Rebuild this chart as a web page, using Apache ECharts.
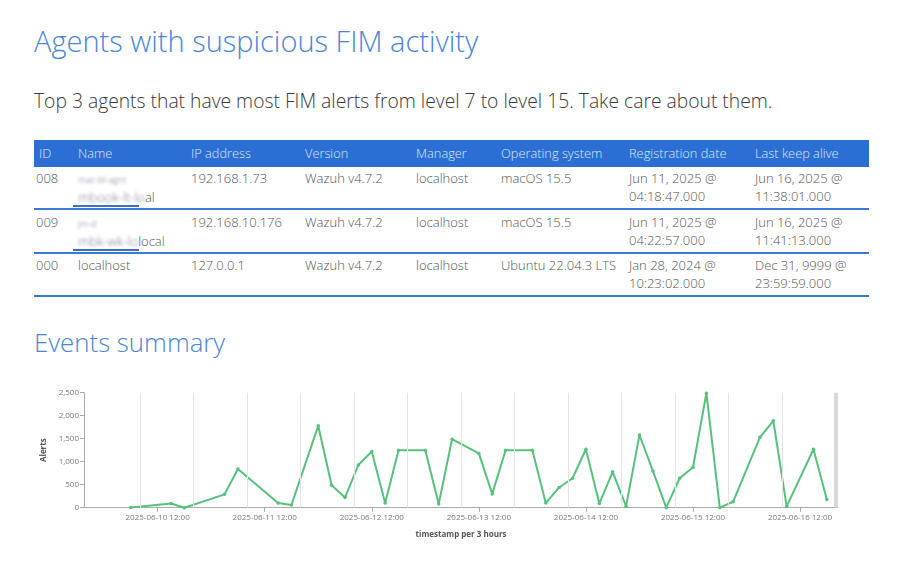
<!DOCTYPE html>
<html>
<head>
<meta charset="utf-8">
<script src="https://cdn.jsdelivr.net/npm/echarts@6/dist/echarts.min.js"></script>
<style>
  html, body { margin: 0; padding: 0; background: #fff; }
  body { width: 900px; height: 565px; position: relative; overflow: hidden; font-family: "Open Sans", sans-serif; }
  .abs { position: absolute; white-space: nowrap; }
  #title { left: 34px; top: 21px; font-size: 29px; color: #4a86d4; font-weight: 300; line-height: 40px; }
  #subtitle { left: 34px; top: 87px; font-size: 19.3px; color: #3a3a3a; line-height: 28px; font-weight: 300; }
  #events { left: 34px; top: 324px; font-size: 25.8px; color: #4a86d4; line-height: 36px; font-weight: 300; }
  #thead { left: 34px; top: 140px; width: 835px; height: 27px; background: #2c6fd4; }
  .th { position: absolute; top: 0; line-height: 27px; font-size: 12.8px; color: #dce7f8; white-space: nowrap; font-weight: 300; }
  .td { position: absolute; font-size: 13px; color: #555; line-height: 17.5px; white-space: nowrap; font-weight: 300; }
  .sep { position: absolute; left: 34px; width: 835px; height: 2px; background: #3b79d5; }
  .blur { filter: blur(1.6px); color: #7a7a9a; }
  #chart { position: absolute; left: 0; top: 370px; width: 900px; height: 195px; }
</style>
</head>
<body>
<div id="title" class="abs">Agents with suspicious FIM activity</div>
<div id="subtitle" class="abs">Top 3 agents that have most FIM alerts from level 7 to level 15. Take care about them.</div>

<div id="thead" class="abs"></div>
<div id="rows"></div>

<div id="events" class="abs">Events summary</div>
<div id="chart"></div>

<script>
// ---- Table data ----
var columns = ["ID", "Name", "IP address", "Version", "Manager", "Operating system", "Registration date", "Last keep alive"];
var agentIds = ["008", "009", "000"];
var agentNames = [["mac-bl-agnt", "mbook-lt-lo|al"], ["jm-d", "mbk-wk-lo|local"], ["localhost"]];
var agentIps = ["192.168.1.73", "192.168.10.176", "127.0.0.1"];
var agentVersions = ["Wazuh v4.7.2", "Wazuh v4.7.2", "Wazuh v4.7.2"];
var agentManagers = ["localhost", "localhost", "localhost"];
var agentOs = ["macOS 15.5", "macOS 15.5", "Ubuntu 22.04.3 LTS"];
var agentRegistered = [["Jun 11, 2025 @", "04:18:47.000"], ["Jun 11, 2025 @", "04:22:57.000"], ["Jan 28, 2024 @", "10:23:02.000"]];
var agentKeepAlive = [["Jun 16, 2025 @", "11:38:01.000"], ["Jun 16, 2025 @", "11:41:13.000"], ["Dec 31, 9999 @", "23:59:59.000"]];

// ---- Chart data ----
var bucketTimes = [
  "2025-06-10 06:00", "2025-06-10 15:00", "2025-06-10 18:00",
  "2025-06-11 03:00", "2025-06-11 06:00", "2025-06-11 15:00", "2025-06-11 18:00",
  "2025-06-12 00:00", "2025-06-12 03:00", "2025-06-12 06:00", "2025-06-12 09:00", "2025-06-12 12:00", "2025-06-12 15:00", "2025-06-12 18:00",
  "2025-06-13 00:00", "2025-06-13 03:00", "2025-06-13 06:00", "2025-06-13 12:00", "2025-06-13 15:00", "2025-06-13 18:00",
  "2025-06-14 00:00", "2025-06-14 03:00", "2025-06-14 06:00", "2025-06-14 09:00", "2025-06-14 12:00", "2025-06-14 15:00", "2025-06-14 18:00", "2025-06-14 21:00",
  "2025-06-15 00:00", "2025-06-15 03:00", "2025-06-15 06:00", "2025-06-15 09:00", "2025-06-15 12:00", "2025-06-15 15:00", "2025-06-15 18:00", "2025-06-15 21:00",
  "2025-06-16 03:00", "2025-06-16 06:00", "2025-06-16 09:00", "2025-06-16 15:00", "2025-06-16 18:00"
];
var alertCounts = [
  5, 90, 0,
  290, 840, 100, 60,
  1780, 490, 220, 930, 1220, 100, 1250,
  1250, 80, 1490, 1180, 300, 1250,
  1250, 100, 440, 640, 1270, 90, 780, 30,
  1580, 800, 0, 640, 880, 2490, 0, 130,
  1530, 1890, 30, 1270, 180
];
var xRange = ["2025-06-09 19:30", "2025-06-16 20:30"];
var xTickLabels = ["2025-06-10 12:00", "2025-06-11 12:00", "2025-06-12 12:00", "2025-06-13 12:00", "2025-06-14 12:00", "2025-06-15 12:00", "2025-06-16 12:00"];
var gridLineTimes = [
  "2025-06-10 08:00", "2025-06-10 20:00", "2025-06-11 08:00", "2025-06-11 20:00",
  "2025-06-12 08:00", "2025-06-12 20:00", "2025-06-13 08:00", "2025-06-13 20:00",
  "2025-06-14 08:00", "2025-06-14 20:00", "2025-06-15 08:00", "2025-06-15 20:00",
  "2025-06-16 08:00"
];
var endLineTime = "2025-06-16 20:00";

// ---- Build table ----
var colX = [39, 78, 191, 305, 416, 501, 629, 755];
var head = document.getElementById('thead');
columns.forEach(function (c, i) {
  var d = document.createElement('div');
  d.className = 'th';
  d.style.left = (colX[i] - 34) + 'px';
  d.textContent = c;
  head.appendChild(d);
});
var rowsEl = document.getElementById('rows');
var rowTop = [170, 214, 257];
var sepTop = [208, 252, 295];
function cell(x, y, lines, nameRow) {
  var d = document.createElement('div');
  d.className = 'td';
  d.style.left = x + 'px';
  d.style.top = y + 'px';
  lines.forEach(function (l, k) {
    if (k > 0) d.appendChild(document.createElement('br'));
    if (nameRow && l.indexOf('|') >= 0) {
      var p = l.split('|');
      var b = document.createElement('span'); b.className = 'blur'; b.textContent = p[0];
      var s = document.createElement('span'); s.textContent = p[1];
      d.appendChild(b); d.appendChild(s);
    } else if (nameRow && lines.length > 1) {
      var b2 = document.createElement('span'); b2.className = 'blur'; b2.textContent = l;
      b2.style.fontSize = '9px';
      d.appendChild(b2);
    } else {
      d.appendChild(document.createTextNode(l));
    }
  });
  rowsEl.appendChild(d);
}
for (var r = 0; r < agentIds.length; r++) {
  var y = rowTop[r];
  cell(colX[0] - 3, y, [agentIds[r]]);
  cell(colX[1], y, agentNames[r], true);
  cell(colX[2], y, [agentIps[r]]);
  cell(colX[3], y, [agentVersions[r]]);
  cell(colX[4], y, [agentManagers[r]]);
  cell(colX[5], y, [agentOs[r]]);
  cell(colX[6], y, agentRegistered[r]);
  cell(colX[7], y, agentKeepAlive[r]);
  var s = document.createElement('div');
  s.className = 'sep';
  s.style.top = sepTop[r] + 'px';
  rowsEl.appendChild(s);
  if (agentNames[r].length > 1) {
    var u = document.createElement('div');
    u.style.cssText = 'position:absolute;left:73px;width:66px;height:2px;background:#3b6fd0;top:' + (sepTop[r] - 3) + 'px';
    rowsEl.appendChild(u);
  }
}

// ---- Chart ----
function toMs(s) {
  var p = s.split(/[- :]/).map(Number);
  return Date.UTC(p[0], p[1] - 1, p[2], p[3], p[4]);
}
function pad(n) { return (n < 10 ? '0' : '') + n; }
function fmt(ms) {
  var d = new Date(ms);
  return d.getUTCFullYear() + '-' + pad(d.getUTCMonth() + 1) + '-' + pad(d.getUTCDate()) + ' ' + pad(d.getUTCHours()) + ':' + pad(d.getUTCMinutes());
}
var seriesData = bucketTimes.map(function (t, i) { return [toMs(t), alertCounts[i]]; });
var tickMs = xTickLabels.map(toMs);

var chart = echarts.init(document.getElementById('chart'), null, { renderer: 'canvas' });
chart.setOption({
  animation: false,
  grid: { left: 84, right: 62, top: 22.7, height: 115, containLabel: false },
  xAxis: {
    type: 'value',
    min: toMs(xRange[0]),
    max: toMs(xRange[1]),
    name: 'timestamp per 3 hours',
    nameLocation: 'middle',
    nameGap: 23,
    nameTextStyle: { fontFamily: 'Open Sans', fontSize: 8, fontWeight: 'bold', color: '#555' },
    axisLine: { lineStyle: { color: '#aaa', width: 1 } },
    axisTick: { show: true, customValues: tickMs, length: 4, lineStyle: { color: '#aaa' } },
    axisLabel: {
      customValues: tickMs,
      formatter: function (v) { return fmt(v); },
      fontFamily: 'Open Sans', fontSize: 8, color: '#777', margin: 6
    },
    splitLine: { show: false }
  },
  yAxis: {
    type: 'value',
    min: 0,
    max: 2500,
    interval: 500,
    name: 'Alerts',
    nameLocation: 'middle',
    nameGap: 33,
    nameRotate: 90,
    nameTextStyle: { fontFamily: 'Open Sans', fontSize: 8, fontWeight: 'bold', color: '#555' },
    axisLine: { show: true, lineStyle: { color: '#aaa' } },
    axisTick: { show: true, length: 4, lineStyle: { color: '#aaa' } },
    axisLabel: {
      fontFamily: 'Open Sans', fontSize: 8, color: '#777', margin: 5,
      formatter: function (v) { return v.toLocaleString('en-US'); }
    },
    splitLine: { show: false }
  },
  series: [{
    type: 'line',
    data: seriesData,
    symbol: 'circle',
    symbolSize: 3.5,
    showSymbol: true,
    lineStyle: { color: '#57c17b', width: 2 },
    itemStyle: { color: '#57c17b' },
    markLine: {
      silent: true,
      symbol: ['none', 'none'],
      label: { show: false },
      lineStyle: { color: '#e4e4e4', width: 1, type: 'solid' },
      data: gridLineTimes.map(function (t) { return { xAxis: toMs(t) }; }).concat([
        { xAxis: toMs(endLineTime), lineStyle: { color: '#d9d9d9', width: 4 } }
      ])
    },
    z: 3
  }]
});
</script>
</body>
</html>
